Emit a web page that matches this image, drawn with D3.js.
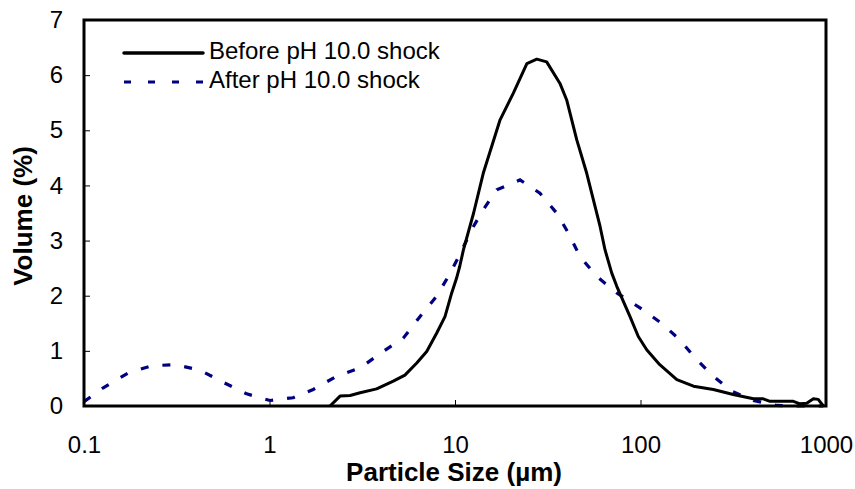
<!DOCTYPE html>
<html>
<head>
<meta charset="utf-8">
<script src="https://cdn.jsdelivr.net/npm/d3@7"></script>
<style>
  body { margin: 0; background: #fff; }
  svg text { font-family: "Liberation Sans", Arial, sans-serif; }
</style>
</head>
<body>
<div id="chart"></div>
<script>
// particle size (µm) / volume (%)
const beforeSize = [2.12, 2.40, 2.72, 3.08, 3.78, 4.65, 5.37, 6.22, 7.04, 7.96, 8.83, 9.60, 10.2, 10.6, 11.1,
  12.6, 14.2, 17.5, 20.6, 24.4, 27.6, 31.2, 36.8, 40.0, 45.3, 51.3, 60.5, 64.4, 70.0, 74.5, 87.8, 97.3,
  108, 127, 157, 193, 247, 316, 406, 459, 499, 667, 724, 787, 855, 908, 968];
const beforeVolume = [0, 0.18, 0.19, 0.24, 0.31, 0.45, 0.56, 0.78, 0.99, 1.32, 1.62, 2.05, 2.32, 2.53, 2.83,
  3.5, 4.22, 5.19, 5.67, 6.21, 6.29, 6.24, 5.85, 5.55, 4.83, 4.22, 3.26, 2.83, 2.41, 2.17, 1.62, 1.26,
  1.02, 0.75, 0.48, 0.36, 0.30, 0.21, 0.13, 0.13, 0.085, 0.085, 0.04, 0.05, 0.13, 0.12, 0];

const afterSize = [0.1, 0.127, 0.173, 0.232, 0.310, 0.422, 0.563, 0.753, 1.006, 1.34, 1.72, 2.30, 3.08, 4.10,
  5.26, 6.47, 7.96, 9.20, 10.6, 12.3, 14.2, 16.8, 22.4, 28.7, 35.3, 40.8, 47.2, 58.1, 74.5, 99.4, 130,
  163, 197, 247, 310, 406, 542, 724, 968];
const afterVolume = [0.08, 0.33, 0.6, 0.73, 0.75, 0.65, 0.43, 0.22, 0.1, 0.15, 0.30, 0.54, 0.69, 0.99,
  1.23, 1.62, 1.99, 2.35, 2.74, 3.2, 3.56, 3.92, 4.1, 3.86, 3.5, 3.14, 2.71, 2.35, 2.05, 1.78, 1.5,
  1.2, 0.87, 0.54, 0.27, 0.10, 0.01, 0, 0];

const xTicks = [0.1, 1, 10, 100, 1000];
const yTicks = [0, 1, 2, 3, 4, 5, 6, 7];
const seriesNames = ['Before pH 10.0 shock', 'After pH 10.0 shock'];

const WIDTH = 855;
const HEIGHT = 489;
const MARGIN = { TOP: 20, RIGHT: 29, BOTTOM: 83, LEFT: 84 };

const svg = d3.select('#chart').append('svg').attr('width', WIDTH).attr('height', HEIGHT);

const xScale = d3.scaleLog().domain([0.1, 1000]).range([MARGIN.LEFT, WIDTH - MARGIN.RIGHT]);
const yScale = d3.scaleLinear().domain([0, 7]).range([HEIGHT - MARGIN.BOTTOM, MARGIN.TOP]);

// x axis (ticks pointing inward)
const xAxis = svg.append('g')
  .attr('transform', 'translate(0,' + (HEIGHT - MARGIN.BOTTOM) + ')')
  .call(d3.axisBottom(xScale).tickValues(xTicks).tickFormat(d3.format('~g'))
    .tickSizeInner(-6).tickSizeOuter(0).tickPadding(30));
xAxis.select('.domain').remove();
xAxis.selectAll('text').attr('font-size', '24px').attr('fill', '#000');

const yAxis = svg.append('g')
  .attr('transform', 'translate(' + MARGIN.LEFT + ',0)')
  .call(d3.axisLeft(yScale).tickValues(yTicks).tickFormat(d3.format('d'))
    .tickSizeInner(-6).tickSizeOuter(0).tickPadding(21));
yAxis.select('.domain').remove();
yAxis.selectAll('text').attr('font-size', '24px').attr('fill', '#000');

// lines
const line = d3.line()
  .x((d) => xScale(d[0]))
  .y((d) => yScale(d[1]));

svg.append('path')
  .datum(afterSize.map((s, i) => [s, afterVolume[i]]))
  .attr('fill', 'none')
  .attr('stroke', '#000080')
  .attr('stroke-width', 3.2)
  .attr('stroke-dasharray', '8,14')
  .attr('d', line);

svg.append('path')
  .datum(beforeSize.map((s, i) => [s, beforeVolume[i]]))
  .attr('fill', 'none')
  .attr('stroke', '#000')
  .attr('stroke-width', 3)
  .attr('stroke-linejoin', 'round')
  .attr('d', line);

// frame
svg.append('rect')
  .attr('x', MARGIN.LEFT)
  .attr('y', MARGIN.TOP)
  .attr('width', WIDTH - MARGIN.LEFT - MARGIN.RIGHT)
  .attr('height', HEIGHT - MARGIN.TOP - MARGIN.BOTTOM)
  .attr('fill', 'none')
  .attr('stroke', '#000')
  .attr('stroke-width', 3);

// legend
const legend = svg.append('g');
seriesNames.forEach((name, i) => {
  const y = 53 + i * 29;
  legend.append('line')
    .attr('x1', 124).attr('x2', 203).attr('y1', y).attr('y2', y)
    .attr('stroke', i === 0 ? '#000' : '#000080')
    .attr('stroke-width', i === 0 ? 3.5 : 3.2)
    .attr('stroke-linecap', i === 0 ? 'round' : 'butt')
    .attr('stroke-dasharray', i === 0 ? null : '7,17');
  legend.append('text')
    .attr('x', 209).attr('y', y + 6)
    .attr('font-size', '24px')
    .text(name);
});

// axis titles
svg.append('text')
  .attr('x', 454)
  .attr('y', 481)
  .attr('text-anchor', 'middle')
  .attr('font-size', '26px')
  .attr('font-weight', 'bold')
  .text('Particle Size (µm)');

svg.append('text')
  .attr('transform', 'translate(32,216) rotate(-90)')
  .attr('text-anchor', 'middle')
  .attr('font-size', '26px')
  .attr('font-weight', 'bold')
  .text('Volume (%)');
</script>
</body>
</html>
